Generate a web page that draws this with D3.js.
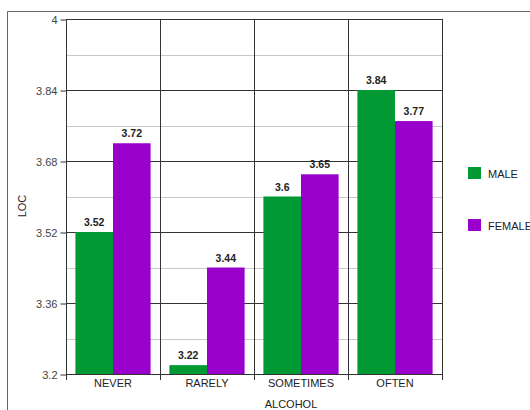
<!DOCTYPE html>
<html>
<head>
<meta charset="utf-8">
<script src="https://cdn.jsdelivr.net/npm/d3@7"></script>
<style>
  html, body { margin: 0; padding: 0; background: #fff; }
  svg { display: block; font-family: "Liberation Sans", Arial, sans-serif; }
</style>
</head>
<body>
<svg id="chart" width="530" height="410"></svg>
<script>
// Mean LOC score by alcohol use, split by gender
const categories = ["NEVER", "RARELY", "SOMETIMES", "OFTEN"];
const seriesNames = ["MALE", "FEMALE"];
const maleValues = [3.52, 3.22, 3.6, 3.84];
const femaleValues = [3.72, 3.44, 3.65, 3.77];
const yTicks = [3.2, 3.36, 3.52, 3.68, 3.84, 4];
const yMinorTicks = [3.28, 3.44, 3.6, 3.76, 3.92];
const colors = ["#009933", "#9900cc"];

const svg = d3.select("#chart");
const plot = { left: 66, right: 442, top: 19, bottom: 374 };

// outer frame (top and left edges visible)
svg.append("line").attr("x1", 7.5).attr("x2", 530).attr("y1", 11.5).attr("y2", 11.5)
  .attr("stroke", "#666").attr("stroke-width", 1);
svg.append("line").attr("x1", 7.5).attr("x2", 7.5).attr("y1", 11.5).attr("y2", 410)
  .attr("stroke", "#666").attr("stroke-width", 1);

const x0 = d3.scaleBand().domain(categories).range([plot.left, plot.right]).paddingInner(0).paddingOuter(0);
const x1 = d3.scaleBand().domain(seriesNames).range([0, x0.bandwidth()]).paddingOuter(0.25).paddingInner(0);
const y = d3.scaleLinear().domain([3.2, 4]).range([plot.bottom, plot.top]);

// minor gridlines
svg.append("g").selectAll("line").data(yMinorTicks).join("line")
  .attr("x1", plot.left).attr("x2", plot.right)
  .attr("y1", d => Math.round(y(d)) + 0.5).attr("y2", d => Math.round(y(d)) + 0.5)
  .attr("stroke", "#c8c8c8");

// major gridlines
svg.append("g").selectAll("line").data(yTicks).join("line")
  .attr("x1", plot.left).attr("x2", plot.right)
  .attr("y1", d => Math.round(y(d)) + 0.5).attr("y2", d => Math.round(y(d)) + 0.5)
  .attr("stroke", "#333");

// vertical category separators, extending below the axis as ticks
const bounds = categories.map(c => x0(c)).concat([plot.right]);
svg.append("g").selectAll("line").data(bounds).join("line")
  .attr("x1", d => Math.round(d) + 0.5).attr("x2", d => Math.round(d) + 0.5)
  .attr("y1", plot.top).attr("y2", plot.bottom + 6)
  .attr("stroke", "#333");

// bars
const rows = categories.map((c, i) => ({ cat: c, values: [maleValues[i], femaleValues[i]] }));
const groups = svg.append("g").selectAll("g").data(rows).join("g")
  .attr("transform", d => `translate(${x0(d.cat)},0)`);

groups.selectAll("rect").data(d => d.values.map((v, j) => ({ name: seriesNames[j], v, j })))
  .join("rect")
  .attr("x", d => x1(d.name))
  .attr("width", x1.bandwidth())
  .attr("y", d => y(d.v))
  .attr("height", d => y(3.2) - y(d.v))
  .attr("fill", d => colors[d.j]);

groups.selectAll("text").data(d => d.values.map((v, j) => ({ name: seriesNames[j], v, j })))
  .join("text")
  .attr("x", d => x1(d.name) + x1.bandwidth() / 2)
  .attr("y", d => y(d.v) - 6)
  .attr("text-anchor", "middle")
  .attr("font-size", 10.5)
  .attr("font-weight", "bold")
  .attr("fill", "#222")
  .text(d => d.v);

// y axis
const yAxis = d3.axisLeft(y).tickValues(yTicks).tickSize(6).tickSizeOuter(0)
  .tickFormat(d => String(+d.toFixed(2)));
const yg = svg.append("g").attr("transform", `translate(${plot.left + 0.5},0.5)`).call(yAxis);
yg.select(".domain").remove();
yg.selectAll(".tick line").attr("stroke", "#333");
yg.selectAll(".tick text").attr("font-size", 11).attr("fill", "#444")
  .attr("font-family", "Liberation Sans, Arial, sans-serif").attr("x", -9);

// x labels
svg.append("g").selectAll("text").data(categories).join("text")
  .attr("x", d => x0(d) + x0.bandwidth() / 2)
  .attr("y", plot.bottom + 13)
  .attr("text-anchor", "middle")
  .attr("font-size", 11)
  .attr("fill", "#222")
  .text(d => d);

// axis titles
svg.append("text").attr("x", 291).attr("y", 408).attr("text-anchor", "middle")
  .attr("font-size", 11).attr("fill", "#222").text("ALCOHOL");
svg.append("text").attr("transform", "translate(26,206) rotate(-90)").attr("text-anchor", "middle")
  .attr("font-size", 11).attr("fill", "#222").text("LOC");

// legend
const legend = svg.append("g").selectAll("g").data(seriesNames).join("g")
  .attr("transform", (d, i) => `translate(468,${167 + i * 52})`);
legend.append("rect").attr("width", 13).attr("height", 12).attr("fill", (d, i) => colors[i]);
legend.append("text").attr("x", 20).attr("y", 11).attr("font-size", 11).attr("fill", "#222").text(d => d);
</script>
</body>
</html>
